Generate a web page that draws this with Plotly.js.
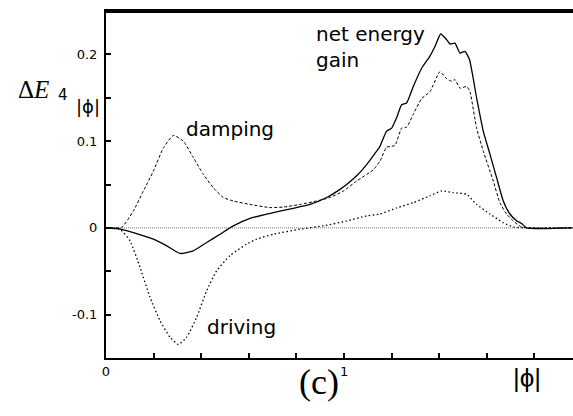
<!DOCTYPE html>
<html>
<head>
<meta charset="utf-8">
<script src="https://cdn.plot.ly/plotly-3.0.1.min.js"></script>
<style>html,body{margin:0;padding:0;background:#fff;}#chart{width:573px;height:416px;}</style>
</head>
<body>
<div id="chart"></div>
<script>
// |phi| values and energy contributions
const dampingX = [0, 0.04, 0.066, 0.115, 0.157, 0.199, 0.241, 0.283, 0.325, 0.367, 0.409, 0.451, 0.493, 0.535, 0.605, 0.689, 0.745, 0.815, 0.885, 0.941, 0.997, 1.053, 1.123, 1.151, 1.179, 1.214, 1.242, 1.263, 1.291, 1.326, 1.361, 1.403, 1.431, 1.452, 1.466, 1.487, 1.515, 1.529, 1.557, 1.585, 1.627, 1.655, 1.683, 1.711, 1.739, 1.768, 1.96];
const dampingY = [0, 0, 0.0005, 0.0195, 0.0425, 0.0655, 0.092, 0.1065, 0.100, 0.081, 0.0617, 0.0463, 0.035, 0.031, 0.027, 0.0234, 0.024, 0.027, 0.031, 0.035, 0.0425, 0.054, 0.067, 0.077, 0.093, 0.095, 0.115, 0.116, 0.131, 0.149, 0.157, 0.180, 0.172, 0.169, 0.171, 0.161, 0.163, 0.157, 0.115, 0.0885, 0.054, 0.029, 0.016, 0.008, 0.002, 0, 0];

const drivingX = [0, 0.04, 0.059, 0.101, 0.143, 0.185, 0.227, 0.269, 0.304, 0.339, 0.381, 0.423, 0.465, 0.521, 0.591, 0.633, 0.703, 0.815, 0.913, 1.011, 1.095, 1.151, 1.221, 1.291, 1.361, 1.410, 1.459, 1.515, 1.557, 1.613, 1.669, 1.711, 1.768, 1.96];
const drivingY = [0, 0, -0.0015, -0.015, -0.0456, -0.080, -0.107, -0.126, -0.1345, -0.126, -0.103, -0.0724, -0.0494, -0.032, -0.0187, -0.013, -0.0073, -0.0015, 0.0023, 0.008, 0.0138, 0.016, 0.023, 0.029, 0.037, 0.0425, 0.0406, 0.0387, 0.027, 0.016, 0.006, 0.001, 0, 0];

const netX = [0, 0.059, 0.115, 0.199, 0.255, 0.311, 0.367, 0.423, 0.479, 0.535, 0.605, 0.703, 0.787, 0.857, 0.927, 0.983, 1.011, 1.053, 1.095, 1.137, 1.151, 1.179, 1.200, 1.221, 1.242, 1.263, 1.291, 1.326, 1.361, 1.382, 1.406, 1.431, 1.445, 1.466, 1.487, 1.508, 1.527, 1.557, 1.585, 1.613, 1.641, 1.669, 1.697, 1.726, 1.746, 1.768, 1.96];
const netY = [0, -0.0015, -0.0054, -0.013, -0.0207, -0.0295, -0.0264, -0.0169, -0.0073, 0.0023, 0.011, 0.0176, 0.0226, 0.027, 0.035, 0.0444, 0.050, 0.060, 0.073, 0.0885, 0.094, 0.1115, 0.115, 0.127, 0.142, 0.144, 0.163, 0.184, 0.198, 0.209, 0.2235, 0.217, 0.212, 0.213, 0.2015, 0.2035, 0.194, 0.150, 0.1115, 0.085, 0.058, 0.031, 0.016, 0.008, 0.005, 0, 0];

const xTickVals = [0, 0.2, 0.4, 0.6, 0.8, 1, 1.2, 1.4, 1.6, 1.8];
const xTickText = ['0', '', '', '', '', '1', '', '', '', ''];
const yTickVals = [-0.15, -0.1, -0.05, 0, 0.05, 0.1, 0.15, 0.2, 0.25];
const yTickText = ['', '-0.1', '', '0', '', '0.1', '', '0.2', ''];

const SANS = 'DejaVu Sans, sans-serif';

const traces = [
  {x: drivingX, y: drivingY, mode: 'lines', line: {color: '#000', width: 1.3, dash: '1.5px,2.5px', shape: 'spline', smoothing: 0.5}},
  {x: dampingX, y: dampingY, mode: 'lines', line: {color: '#000', width: 1, dash: '3px,2px', shape: 'spline', smoothing: 0.5}},
  {x: netX, y: netY, mode: 'lines', line: {color: '#000', width: 1.3, shape: 'spline', smoothing: 0.5}}
];

const layout = {
  width: 573, height: 416,
  margin: {l: 106, r: 0, t: 11, b: 58},
  showlegend: false,
  xaxis: {
    range: [0, 1.962], showline: true, linewidth: 2, linecolor: '#000', mirror: true,
    ticks: 'inside', ticklen: 5, tickwidth: 2, tickcolor: '#000',
    tickvals: xTickVals, ticktext: xTickText,
    tickfont: {family: SANS, size: 13, color: '#000'},
    showgrid: false, zeroline: false
  },
  yaxis: {
    range: [-0.15, 0.25], showline: true, linewidth: 2, linecolor: '#000',
    ticks: 'inside', ticklen: 5, tickwidth: 2, tickcolor: '#000',
    tickvals: yTickVals, ticktext: yTickText,
    tickfont: {family: SANS, size: 13, color: '#000'},
    ticklabelstandoff: 4,
    showgrid: false, zeroline: false
  },
  shapes: [
    {type: 'line', xref: 'paper', x0: 0, x1: 1, yref: 'y', y0: 0, y1: 0, layer: 'below',
     line: {color: '#777', width: 1, dash: '1px,1px'}},
    {type: 'line', xref: 'paper', x0: 0, x1: 1, yref: 'paper', y0: 0.997, y1: 0.997, layer: 'above',
     line: {color: '#000', width: 2}}
  ],
  annotations: [
    {text: 'damping', x: 0.519, y: 0.114, xref: 'x', yref: 'y', showarrow: false,
     xanchor: 'center', yanchor: 'middle', font: {family: SANS, size: 20, color: '#000'}},
    {text: 'net energy<br>gain', x: 0.872, y: 0.209, xref: 'x', yref: 'y', showarrow: false,
     xanchor: 'left', yanchor: 'middle', align: 'left', font: {family: SANS, size: 20, color: '#000'}},
    {text: 'driving', x: 0.571, y: -0.114, xref: 'x', yref: 'y', showarrow: false,
     xanchor: 'center', yanchor: 'middle', font: {family: SANS, size: 20, color: '#000'}},
    {text: '(c)', x: 0.456, y: -0.07, xref: 'paper', yref: 'paper', showarrow: false,
     xanchor: 'center', yanchor: 'middle', font: {family: 'Liberation Serif, serif', size: 36, color: '#000'}},
    {text: '|\u03D5|', x: 0.9015, y: -0.058, xref: 'paper', yref: 'paper', showarrow: false,
     xanchor: 'center', yanchor: 'middle', font: {family: 'Liberation Sans, sans-serif', size: 26, color: '#000'}},
    {text: '\u0394<i>E</i>', x: -0.156, y: 0.773, xref: 'paper', yref: 'paper', showarrow: false,
     xanchor: 'center', yanchor: 'middle', font: {family: 'Liberation Serif, serif', size: 25, color: '#000'}},
    {text: '4', x: -0.092, y: 0.757, xref: 'paper', yref: 'paper', showarrow: false,
     xanchor: 'center', yanchor: 'middle', font: {family: SANS, size: 15, color: '#000'}},
    {text: '|\u03D5|', x: -0.0385, y: 0.724, xref: 'paper', yref: 'paper', showarrow: false,
     xanchor: 'center', yanchor: 'middle', font: {family: SANS, size: 18, color: '#000'}}
  ]
};

Plotly.newPlot('chart', traces, layout, {displayModeBar: false, staticPlot: true});
</script>
</body>
</html>
